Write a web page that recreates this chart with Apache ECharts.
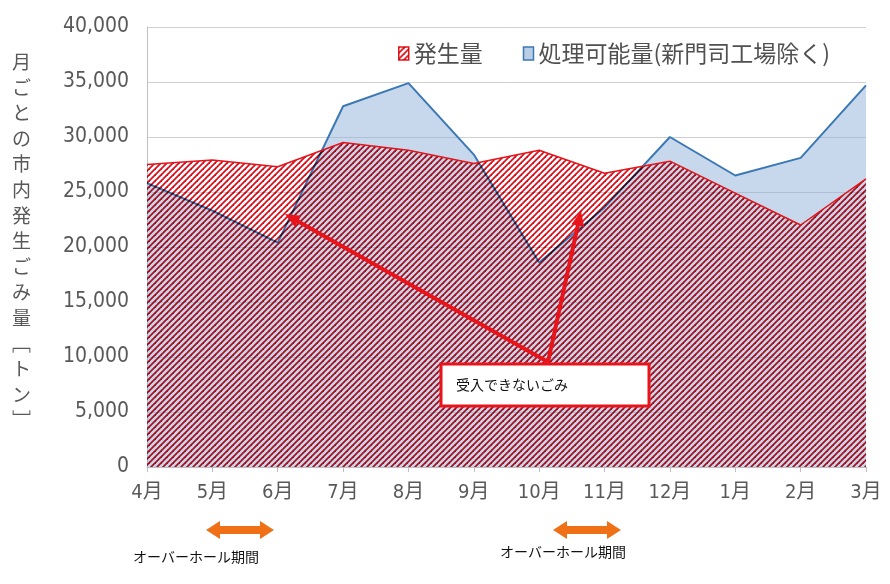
<!DOCTYPE html>
<html><head><meta charset="utf-8">
<script src="https://cdn.jsdelivr.net/npm/echarts@6/dist/echarts.min.js"></script>
<style>html,body{margin:0;padding:0;background:#fff}#c{width:890px;height:584px}</style>
</head><body><div id="c"></div>
<script>
const months = ['4月','5月','6月','7月','8月','9月','10月','11月','12月','1月','2月','3月'];
const generated = [27500, 27900, 27300, 29500, 28800, 27600, 28800, 26700, 27800, 24900, 22000, 26200];
const capacity = [25800, 23300, 20400, 32800, 34900, 28400, 18600, 23600, 30000, 26500, 28100, 34700];
const seriesNames = ['発生量', '処理可能量(新門司工場除く)'];
const yAxisTitle = ['月','ご','と','の','市','内','発','生','ご','み','量','﹇','ト','ン','﹈'];
const noteText = '受入できないごみ';
const overhaulText = 'オーバーホール期間';

function hatch(color){
  const s = 6, c = document.createElement('canvas');
  c.width = s; c.height = s;
  const g = c.getContext('2d');
  g.strokeStyle = color; g.lineWidth = 1.8;
  for (let k = 0; k <= 2; k++) {
    const cc = k * s;
    g.beginPath(); g.moveTo(cc + s, -s); g.lineTo(-s, cc + s); g.stroke();
  }
  return c;
}
const redPattern = { image: hatch('#d8101e'), repeat: 'repeat' };
const cjk = "'Noto Sans CJK JP', sans-serif";
const narrow = "'DejaVu Sans Condensed', 'Noto Sans CJK JP', sans-serif";

function arrowHead(x1, y1, x2, y2, len, half, color){
  const a = Math.atan2(y2 - y1, x2 - x1);
  const bx = x2 - len * Math.cos(a), by = y2 - len * Math.sin(a);
  const px = -Math.sin(a) * half, py = Math.cos(a) * half;
  return { type: 'polygon', shape: { points: [[x2, y2], [bx + px, by + py], [bx - px, by - py]] }, style: { fill: color }, z: 100 };
}
function arrowLine(x1, y1, x2, y2, color){
  const a = Math.atan2(y2 - y1, x2 - x1);
  const ex = x2 - 10 * Math.cos(a), ey = y2 - 10 * Math.sin(a);
  return [
    { type: 'line', shape: { x1, y1, x2: ex, y2: ey }, style: { stroke: color, lineWidth: 4 }, z: 100 },
    arrowHead(x1, y1, x2, y2, 15, 6.5, color)
  ];
}
function dblArrow(x1, x2, y, color){
  return [
    { type: 'rect', shape: { x: x1 + 12, y: y - 4, width: x2 - x1 - 24, height: 8 }, style: { fill: color }, z: 100 },
    { type: 'polygon', shape: { points: [[x1, y], [x1 + 14, y - 9], [x1 + 14, y + 9]] }, style: { fill: color }, z: 100 },
    { type: 'polygon', shape: { points: [[x2, y], [x2 - 14, y - 9], [x2 - 14, y + 9]] }, style: { fill: color }, z: 100 }
  ];
}

const graphics = [
  { type: 'text', left: 12, top: 49, style: { text: yAxisTitle.join('\n'), font: '19px ' + cjk, fill: '#595959', lineHeight: 25.6, align: 'center' }, z: 100 },
  ...arrowLine(548, 362, 285, 214, '#e8141a'),
  ...arrowLine(548, 362, 581, 211, '#e8141a'),
  { type: 'rect', shape: { x: 441, y: 364, width: 208, height: 42 }, style: { fill: '#ffffff', stroke: '#e8141a', lineWidth: 3 }, z: 101 },
  { type: 'text', x: 456, y: 385, style: { text: noteText, font: '14px ' + cjk, fill: '#111', verticalAlign: 'middle' }, z: 102 },
  ...dblArrow(206, 274, 530, '#f07018'),
  ...dblArrow(553, 621, 530, '#f07018'),
  { type: 'text', x: 133, y: 557, style: { text: overhaulText, font: '14px ' + cjk, fill: '#111', verticalAlign: 'middle' }, z: 100 },
  { type: 'text', x: 500, y: 552, style: { text: overhaulText, font: '14px ' + cjk, fill: '#111', verticalAlign: 'middle' }, z: 100 }
];

const chart = echarts.init(document.getElementById('c'), null, { renderer: 'canvas' });
chart.setOption({
  animation: false,
  backgroundColor: '#ffffff',
  grid: { left: 147, right: 24, top: 27, bottom: 117 },
  legend: {
    left: 393, top: 37, itemWidth: 10, itemHeight: 13, itemGap: 40,
    textStyle: { fontSize: 23, color: '#505050', fontFamily: cjk },
    data: [
      { name: seriesNames[0], icon: 'rect', itemStyle: { color: redPattern, borderColor: '#e3151b', borderWidth: 1.5 } },
      { name: seriesNames[1], icon: 'rect', itemStyle: { color: '#b9cde5', borderColor: '#3b78b4', borderWidth: 1.5 } }
    ]
  },
  xAxis: {
    type: 'category', data: months, boundaryGap: false,
    axisLine: { lineStyle: { color: '#bfbfbf' } },
    axisTick: { show: true, length: 5, lineStyle: { color: '#bfbfbf' } },
    axisLabel: { color: '#595959', fontSize: 20, fontFamily: narrow, margin: 16 },
    splitLine: { show: false }
  },
  yAxis: {
    type: 'value', min: 0, max: 40000, interval: 5000,
    axisLine: { show: true, lineStyle: { color: '#bfbfbf' } },
    axisTick: { show: false },
    axisLabel: { color: '#595959', fontSize: 21, fontFamily: narrow, margin: 18,
      formatter: v => v.toLocaleString('en-US') },
    splitLine: { lineStyle: { color: '#d0d0d0', width: 1 } }
  },
  series: [
    { name: seriesNames[1], type: 'line', data: capacity, symbol: 'none', z: 2,
      lineStyle: { color: '#3b78b4', width: 2 },
      itemStyle: { color: '#3b78b4' },
      areaStyle: { color: 'rgba(140,176,218,0.7)', origin: 'start' } },
    { name: seriesNames[0], type: 'line', data: generated, symbol: 'none', z: 3,
      lineStyle: { color: '#e3151b', width: 1.5 },
      itemStyle: { color: '#e3151b' },
      areaStyle: { color: redPattern, opacity: 1, origin: 'start' } }
  ],
  graphic: graphics
});

function applyBlend(){
  const zr = chart.getZr();
  zr.storage.getDisplayList(true).forEach(el => {
    const f = el.style && el.style.fill;
    if (f && typeof f === 'object' && f.image) {
      el.style.blend = 'multiply';
      if (el.markRedraw) el.markRedraw(); else if (el.dirty) el.dirty();
    }
  });
  zr.refreshImmediately();
}
applyBlend();
</script></body></html>
